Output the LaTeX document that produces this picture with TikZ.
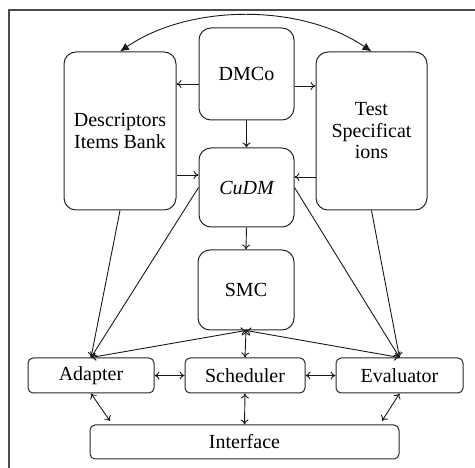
\documentclass[tikz,border=0pt]{standalone}
\usepackage{fontspec}
\setmainfont{Liberation Serif}
\usetikzlibrary{arrows,arrows.meta}

\begin{document}
\begin{tikzpicture}[x=1pt,y=-1pt,
  blk/.style={draw=black!85,line width=1pt,rounded corners=12pt,align=center,inner sep=0pt,font=\rmfamily\fontsize{20}{21.5}\selectfont},
  bar/.style={blk,rounded corners=5pt,minimum height=35pt},
  link/.style={line width=0.9pt,black!90,>={To[length=5pt,width=8pt]}}]
\useasboundingbox (0,0) rectangle (475,468);
\draw[line width=1.5pt,black!70] (9,470) -- (9,10) -- (477,10);

% upper blocks
\node[blk,minimum width=95pt,minimum height=92pt] (dmco) at (246.5,74) {DMCo};
\node[blk,minimum width=112pt,minimum height=158pt] (desc) at (120,131) {Descriptors\\Items Bank};
\node[blk,minimum width=111pt,minimum height=158pt] (test) at (371.5,131) {Test\\Specificat\\ions};
\node[blk,minimum width=95pt,minimum height=79pt] (cudm) at (246.5,187.5) {\itshape CuDM};
\node[blk,minimum width=96pt,minimum height=80pt] (smc) at (246,290) {SMC};

% lower bars
\node[bar,minimum width=126pt] (adapter) at (91,375.5) {Adapter};
\node[bar,minimum width=120pt] (sched) at (245,375.5) {Scheduler};
\node[bar,minimum width=127pt] (eval) at (399.5,375.5) {Evaluator};
\node[bar,minimum width=309pt,minimum height=34pt] (iface) at (244.5,442) {Interface};
\coordinate (ifl) at (110,421);
\coordinate (ifr) at (382,421);

\draw[link,{Latex[length=9pt,width=8pt]}-{Latex[length=9pt,width=8pt]}] (desc.north) .. controls +(70,-48) and +(-70,-48) .. (test.north);

\draw[link,->] (dmco.west |- 0,84) -- (desc.east |- 0,84);
\draw[link,->] (dmco.east |- 0,86) -- (test.west |- 0,86);
\draw[link,->] (dmco.south) -- (cudm.north);
\draw[link,->] (desc.east |- 0,175) -- (cudm.west |- 0,175);
\draw[link,->] (test.west |- 0,177) -- (cudm.east |- 0,177);
\draw[link,->] (cudm.south) -- (smc.north);

\draw[link,->] (desc.south) -- (adapter.north);
\draw[link,->] (cudm.west) -- (adapter.north);
\draw[link,->] (cudm.east) -- (eval.north);
\draw[link,->] (test.south) -- (eval.north);

\draw[link,<->] (smc.south) -- (adapter.north);
\draw[link,<->] (smc.south) -- (eval.north);
\draw[link,<->] (smc.south) -- (sched.north);
\draw[link,<->] (adapter.east) -- (sched.west);
\draw[link,<->] (sched.east) -- (eval.west);
\draw[link,<->] (sched.south) -- (iface.north);
\draw[link,<->] (adapter.south) -- (ifl);
\draw[link,<->] (eval.south) -- (ifr);

\end{tikzpicture}
\end{document}
